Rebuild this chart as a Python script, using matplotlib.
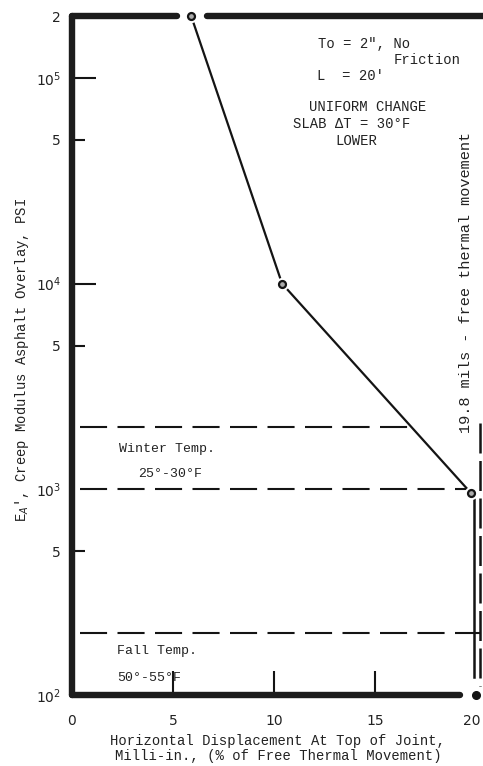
import matplotlib
matplotlib.use("Agg")
import matplotlib.pyplot as plt
import matplotlib.transforms as mtransforms
import numpy as np

# ---- data ----
curve_x = [5.9, 10.4, 19.75]
curve_y = [2.0e5, 1.0e4, 960]
end_x = [20.0]
end_y = [100]
winter_levels = [2000, 1000]
winter_ends = [17.0, 19.6]
fall_level = [200]
fall_end = [20.2]
free_move_x = [19.9, 20.2]
ytick_major = [1e2, 1e3, 1e4, 1e5]
ytick_major_labels = ["$10^2$", "$10^3$", "$10^4$", "$10^5$"]
ytick_minor = [5e2, 5e3, 5e4, 2e5]
ytick_minor_labels = ["5", "5", "5", "2"]
xticks = [0, 5, 10, 15, 20]
xtick_labels = ["0", "5", "10", "15", "20"]

ink = "#141414"
mono = ["Liberation Mono", "DejaVu Sans Mono"]
plt.rcParams["mathtext.fontset"] = "dejavusans"

fig = plt.figure(figsize=(4.83, 7.66), dpi=100)
ax = fig.add_axes([72/483, 71/766, 411/483, 679/766])
ax.set_yscale("log")
ax.set_xlim(0, 20.35)
ax.set_ylim(100, 2e5)
for s in ax.spines.values():
    s.set_visible(False)

# thick frame
kw = dict(color="#1c1c1c", lw=4.6, solid_capstyle="round", clip_on=False)
ax.plot([0, 0], [100, 2e5], **kw)
ax.plot([0, 5.2], [2e5, 2e5], **kw)
ax.plot([6.7, 20.6], [2e5, 2e5], **kw)
ax.plot([0, 19.2], [100, 100], **kw)

# ticks
ax.set_xticks(xticks)
ax.set_xticklabels(xtick_labels, fontsize=10, color="#222")
ax.tick_params(axis="x", direction="in", length=17, width=1.5, color=ink, pad=14)
for i, t in enumerate(ax.xaxis.get_major_ticks()):
    if i in (0, 4):
        t.tick1line.set_visible(False)
last = ax.get_xticklabels()[-1]
last.set_transform(last.get_transform() + mtransforms.ScaledTranslation(-4/100, 0, fig.dpi_scale_trans))
ax.set_yticks(ytick_major)
ax.set_yticklabels(ytick_major_labels, fontsize=10, color="#222")
ax.set_yticks(ytick_minor, minor=True)
ax.set_yticklabels(ytick_minor_labels, minor=True, fontsize=10, color="#222")
ax.tick_params(axis="y", which="major", direction="in", length=17, width=1.5, color=ink, pad=8)
ax.tick_params(axis="y", which="minor", direction="in", length=9, width=1.5, color=ink, pad=8)
for i, t in enumerate(ax.yaxis.get_major_ticks()):
    if i in (0, 1):
        t.tick1line.set_visible(False)
ax.yaxis.get_minor_ticks()[3].tick1line.set_visible(False)
ax.tick_params(which="both", right=False, top=False)

# main curve
ax.plot(curve_x, curve_y, color=ink, lw=1.6, zorder=3)
ax.plot(curve_x, curve_y, ls="none", marker="o", ms=7, mfc="white", mec="white", mew=2.5, zorder=4, clip_on=False)
ax.plot(curve_x, curve_y, ls="none", marker="o", ms=5, mfc="#aaa", mec=ink, mew=1.6, zorder=5, clip_on=False)
ax.plot(end_x, end_y, ls="none", marker="o", ms=5.5, color=ink, zorder=5, clip_on=False)

# dashed temperature lines
for lvl, xe in zip(winter_levels, winter_ends):
    ax.plot([0.4, xe], [lvl, lvl], color=ink, lw=1.5, dashes=(13, 5))
for lvl, xe in zip(fall_level, fall_end):
    ax.plot([0.4, xe], [lvl, lvl], color=ink, lw=1.5, dashes=(13, 5))

# free thermal movement lines
ax.plot([free_move_x[1], free_move_x[1]], [2100, 110], color=ink, lw=1.8, dashes=(12, 3))
ax.plot([free_move_x[0], free_move_x[0]], [900, 122], color=ink, lw=1.8)

# texts
def ft(px, py, s, **k):
    fig.text(px/483, 1 - py/766, s, fontfamily=mono, color="#222", **k)

ft(318, 44, 'To = 2", No', fontsize=10, va="center")
ft(394, 60, "Friction", fontsize=10, va="center")
ft(317, 76, "L  = 20\u2032", fontsize=10, va="center")
ft(368, 107, "UNIFORM CHANGE", fontsize=10, va="center", ha="center")
ft(293, 124, "SLAB \u0394T = 30\u00b0F", fontsize=10, va="center")
ft(356, 141, "LOWER", fontsize=10, va="center", ha="center")
ft(466, 282, "19.8 mils - free thermal movement", fontsize=11, va="center", ha="center", rotation=90)
ft(167, 449, "Winter Temp.", fontsize=9.5, va="center", ha="center")
ft(170, 474, "25\u00b0-30\u00b0F", fontsize=9.5, va="center", ha="center")
ft(117, 651, "Fall Temp.", fontsize=9.5, va="center")
ft(117, 678, "50\u00b0-55\u00b0F", fontsize=9.5, va="center")
ft(278, 741, "Horizontal Displacement At Top of Joint,", fontsize=10, va="center", ha="center")
ft(278, 756, "Milli-in., (% of Free Thermal Movement)", fontsize=10, va="center", ha="center")
ft(22, 360, "E$_A$', Creep Modulus Asphalt Overlay, PSI", fontsize=10, va="center", ha="center", rotation=90)

fig.savefig("out.png", dpi=100, facecolor="white")
